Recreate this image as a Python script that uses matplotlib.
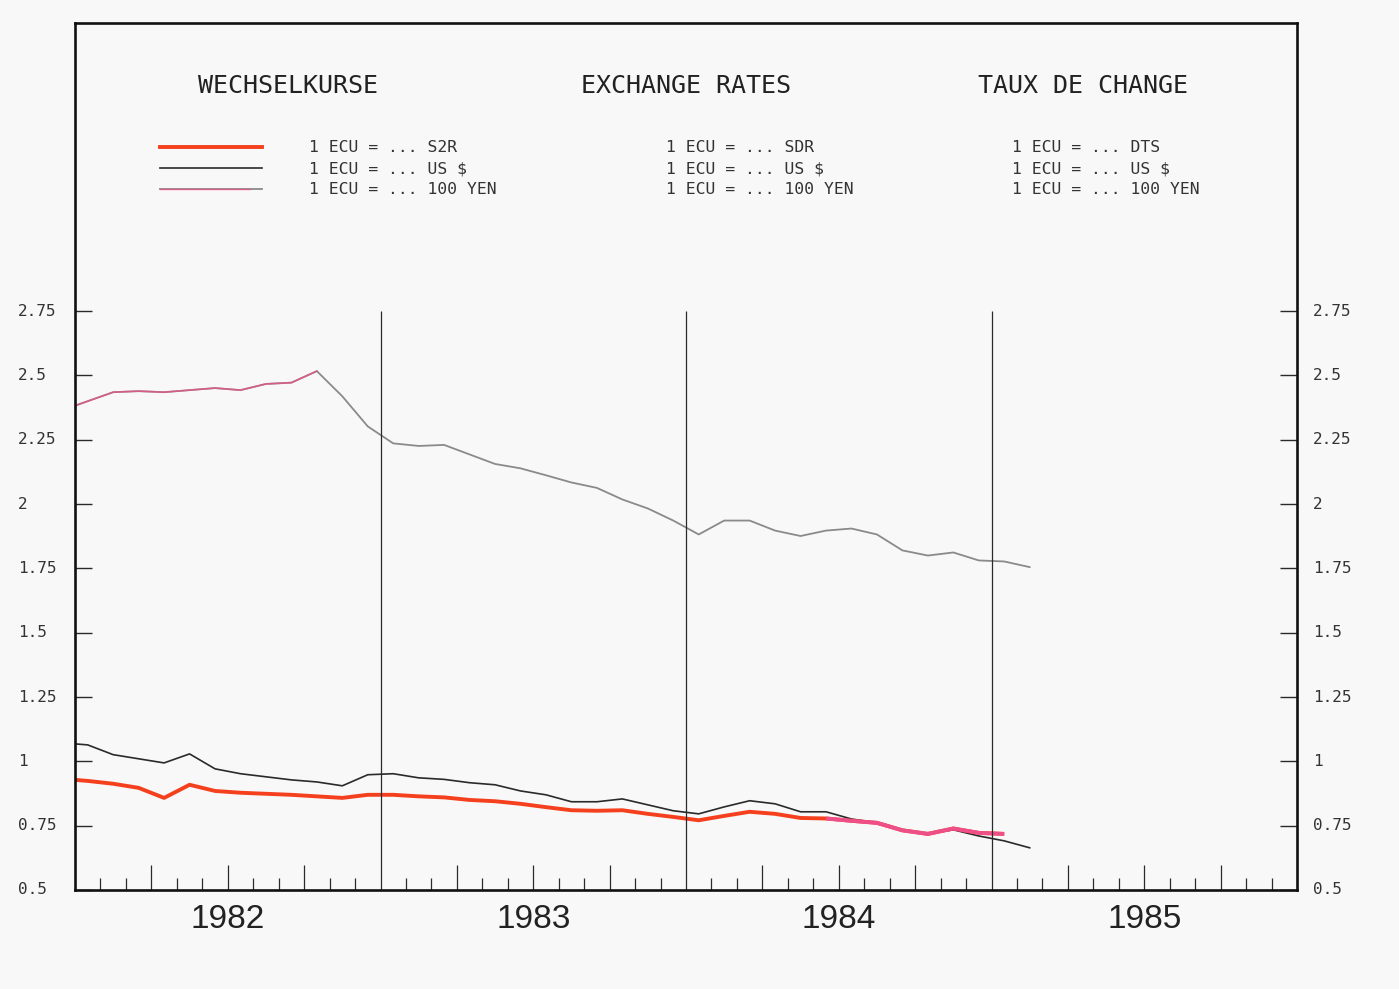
import numpy as np
import pandas as pd
import matplotlib
matplotlib.use('Agg')
import matplotlib.pyplot as plt
from matplotlib.lines import Line2D
from matplotlib.ticker import FixedLocator, FuncFormatter
from matplotlib.transforms import blended_transform_factory

# monthly observations, Dec 1981 .. Feb 1985 (placed at mid-month)
months = pd.period_range('1981-12', '1985-02', freq='M')

ecu_yen = [2.365, 2.400, 2.435, 2.439, 2.435, 2.443, 2.451, 2.443, 2.467, 2.472, 2.517, 2.419, 2.302,
           2.236, 2.226, 2.230, 2.193, 2.156, 2.139, 2.112, 2.084, 2.063, 2.018, 1.983, 1.936,
           1.882, 1.936, 1.936, 1.897, 1.876, 1.897, 1.905, 1.882, 1.820, 1.800, 1.812, 1.781,
           1.777, 1.755]
ecu_usd = [1.072, 1.064, 1.026, 1.010, 0.994, 1.029, 0.971, 0.952, 0.940, 0.928, 0.920, 0.905, 0.948,
           0.952, 0.936, 0.930, 0.917, 0.909, 0.885, 0.870, 0.843, 0.843, 0.854, 0.831, 0.808,
           0.796, 0.823, 0.847, 0.835, 0.804, 0.804, 0.776, 0.761, 0.734, 0.718, 0.734, 0.710,
           0.691, 0.664]
ecu_sdr = [0.932, 0.924, 0.913, 0.897, 0.858, 0.909, 0.885, 0.878, 0.874, 0.870, 0.864, 0.858, 0.870,
           0.870, 0.864, 0.860, 0.850, 0.845, 0.835, 0.822, 0.810, 0.808, 0.810, 0.796, 0.784,
           0.771, 0.788, 0.804, 0.796, 0.780, 0.778, 0.769, 0.761, 0.732, 0.718, 0.739, 0.722,
           0.718]

years = [1982, 1983, 1984, 1985]
yticks = [0.5, 0.75, 1.0, 1.25, 1.5, 1.75, 2.0, 2.25, 2.5, 2.75]

titles = ['WECHSELKURSE', 'EXCHANGE RATES', 'TAUX DE CHANGE']
legend_texts = [
    ['1 ECU = ... S2R', '1 ECU = ... US $', '1 ECU = ... 100 YEN'],
    ['1 ECU = ... SDR', '1 ECU = ... US $', '1 ECU = ... 100 YEN'],
    ['1 ECU = ... DTS', '1 ECU = ... US $', '1 ECU = ... 100 YEN'],
]

RED = '#f5401e'
PINK = '#ee4f88'
GREY = '#8a8a8a'
DARK = '#2a2a2a'
BG = '#f8f8f8'

x = np.asarray(months.year + (months.month - 0.5) / 12.0)

W, H = 1399, 989
fig = plt.figure(figsize=(W / 100, H / 100), dpi=100, facecolor=BG)
ax = fig.add_axes([75 / W, 1 - 890 / H, (1297 - 75) / W, (890 - 23) / H], facecolor=BG)

# series
ax.plot(x, ecu_yen, color=GREY, lw=1.3)
ax.plot(x[:11], ecu_yen[:11], color=PINK, lw=1.2, alpha=0.75)
ax.plot(x, ecu_usd, color=DARK, lw=1.2)
ax.plot(x[:len(ecu_sdr)], ecu_sdr, color=RED, lw=2.8, solid_capstyle='butt')
ax.plot(x[30:len(ecu_sdr)], ecu_sdr[30:], color=PINK, lw=2.8, solid_capstyle='butt')

# year separators
ax.vlines([1983, 1984, 1985], 0.5, 2.75, color=DARK, lw=0.9)

ax.set_xlim(1982, 1986)
ax.set_ylim(0.5, 3.87)

for s in ax.spines.values():
    s.set_linewidth(1.9)
    s.set_color('#111111')

# x ticks: quarters tall, months short, year names under mid-year
quarters = [y + q / 4 for y in years for q in range(1, 4)]
month_ticks = [y + m / 12 for y in years for m in range(1, 12)]
ax.xaxis.set_major_locator(FixedLocator(quarters))
ax.xaxis.set_minor_locator(FixedLocator(month_ticks))
ax.xaxis.set_major_formatter(FuncFormatter(lambda v, p: '%d' % int(v) if abs(v % 1 - 0.5) < 1e-6 else ''))
ax.tick_params(axis='x', which='major', direction='in', length=18, width=0.9, pad=10,
               labelsize=24, color=DARK)
ax.tick_params(axis='x', which='minor', direction='in', length=9, width=0.9, color=DARK)
for lab in ax.get_xticklabels():
    lab.set_fontfamily('Liberation Sans')
    lab.set_color('#222222')

# y ticks on both sides, labels drawn left aligned outside the frame
ax.set_yticks(yticks)
ax.tick_params(axis='y', which='major', direction='in', length=12, width=1.0,
               left=True, right=True, labelleft=False, labelright=False, color=DARK)
tr = blended_transform_factory(fig.transFigure, ax.transData)
for v in yticks:
    for lx in (18, 1313):
        ax.text(lx / W, v, '%g' % v, transform=tr, ha='left', va='center', fontsize=11.5,
                family='DejaVu Sans Mono', color='#333333', clip_on=False)

# titles and legend block
title_x = [288, 686, 1083]
for tx, tt in zip(title_x, titles):
    fig.text(tx / W, 1 - 86 / H, tt, ha='center', va='center', fontsize=18,
             family='DejaVu Sans Mono', color='#222222')

row_y = [148, 169, 190]
col_x = [309, 666, 1012]
for cx, col in zip(col_x, legend_texts):
    for ry, txt in zip(row_y, col):
        fig.text(cx / W, 1 - ry / H, txt, ha='left', va='center', fontsize=11.8,
                 family='DejaVu Sans Mono', color='#333333')

leg_styles = [dict(color=RED, lw=2.8), dict(color=DARK, lw=1.2), dict(color=GREY, lw=1.3)]
for ry, st in zip(row_y, leg_styles):
    fig.add_artist(Line2D([160 / W, 262 / W], [1 - (ry - 1) / H] * 2, transform=fig.transFigure, **st))
fig.add_artist(Line2D([160 / W, 250 / W], [1 - 189 / H] * 2, transform=fig.transFigure,
                      color=PINK, lw=1.0, alpha=0.75))

fig.savefig('out.png', dpi=100, facecolor=BG)
